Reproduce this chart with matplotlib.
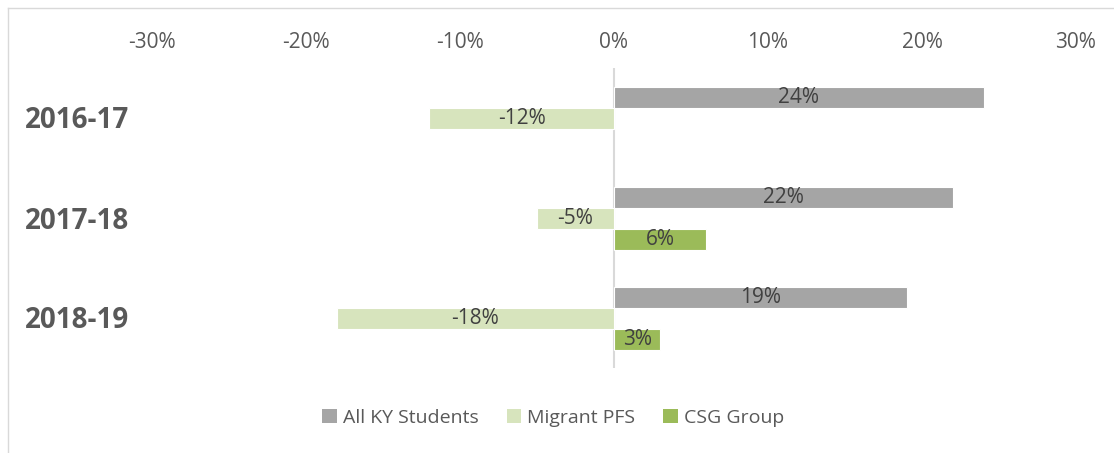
import numpy as np
import matplotlib
matplotlib.use("Agg")
import matplotlib.pyplot as plt
from matplotlib.lines import Line2D
from matplotlib.patches import Patch

# data
years = ["2016-17", "2017-18", "2018-19"]
series = ["All KY Students", "Migrant PFS", "CSG Group"]
all_ky = [24, 22, 19]
migrant = [-12, -5, -18]
csg = [np.nan, 6, 3]
ticks = [-30, -20, -10, 0, 10, 20, 30]

colors = ["#A5A5A5", "#D7E4BD", "#9BBB59"]
txt = "#595959"

plt.rcParams['font.family'] = ['Open Sans', 'DejaVu Sans']

W, H = 1114, 453
fig = plt.figure(figsize=(W / 100, H / 100), dpi=100)
ax = fig.add_axes([152 / W, 1 - 368 / H, (1076 - 152) / W, 300 / H])

y = np.arange(len(years))
bh = 0.21
for i, (vals, c) in enumerate(zip([all_ky, migrant, csg], colors)):
    pos = y + (i - 1) * bh
    v = np.array(vals, dtype=float)
    ok = ~np.isnan(v)
    bars = ax.barh(pos[ok], v[ok], height=bh, color=c, edgecolor="white", linewidth=0.8, zorder=2)
    for b, val in zip(bars, v[ok]):
        ax.text(b.get_x() + b.get_width() / 2, b.get_y() + b.get_height() / 2,
                f"{val:.0f}%", ha="center", va="center", fontsize=15, color="#404040", zorder=3)

ax.set_xlim(-30, 30)
ax.set_ylim(len(years) - 0.5, -0.5)
ax.axvline(0, color="#D9D9D9", lw=1.5, zorder=1)

ax.xaxis.tick_top()
ax.set_xticks(ticks)
ax.set_xticklabels([f"{t}%" for t in ticks], fontsize=15, color=txt)
ax.tick_params(axis="x", length=0, pad=10.5)
ax.set_yticks([])
for s in ax.spines.values():
    s.set_visible(False)

for yi, lab in zip(y, years):
    ax.text(25 / W, 1 - (68 + 100 * yi + 53) / H, lab, transform=fig.transFigure,
            ha="left", va="center", fontsize=20, fontweight="bold", color=txt)

handles = [Patch(facecolor=c, edgecolor="none") for c in colors]
fig.legend(handles, series, loc="center", bbox_to_anchor=(553 / W, 1 - 418 / H), ncol=3,
           frameon=False, fontsize=14, labelcolor=txt, handlelength=0.75, handleheight=0.75,
           handletextpad=0.3, columnspacing=1.45)

# chart frame (only top and left edges visible in the crop)
fig.add_artist(Line2D([8 / W, 1], [1 - 8 / H, 1 - 8 / H], transform=fig.transFigure, color="#D9D9D9", lw=1))
fig.add_artist(Line2D([8 / W, 8 / W], [0, 1 - 8 / H], transform=fig.transFigure, color="#D9D9D9", lw=1))

fig.savefig("out.png", dpi=100)
